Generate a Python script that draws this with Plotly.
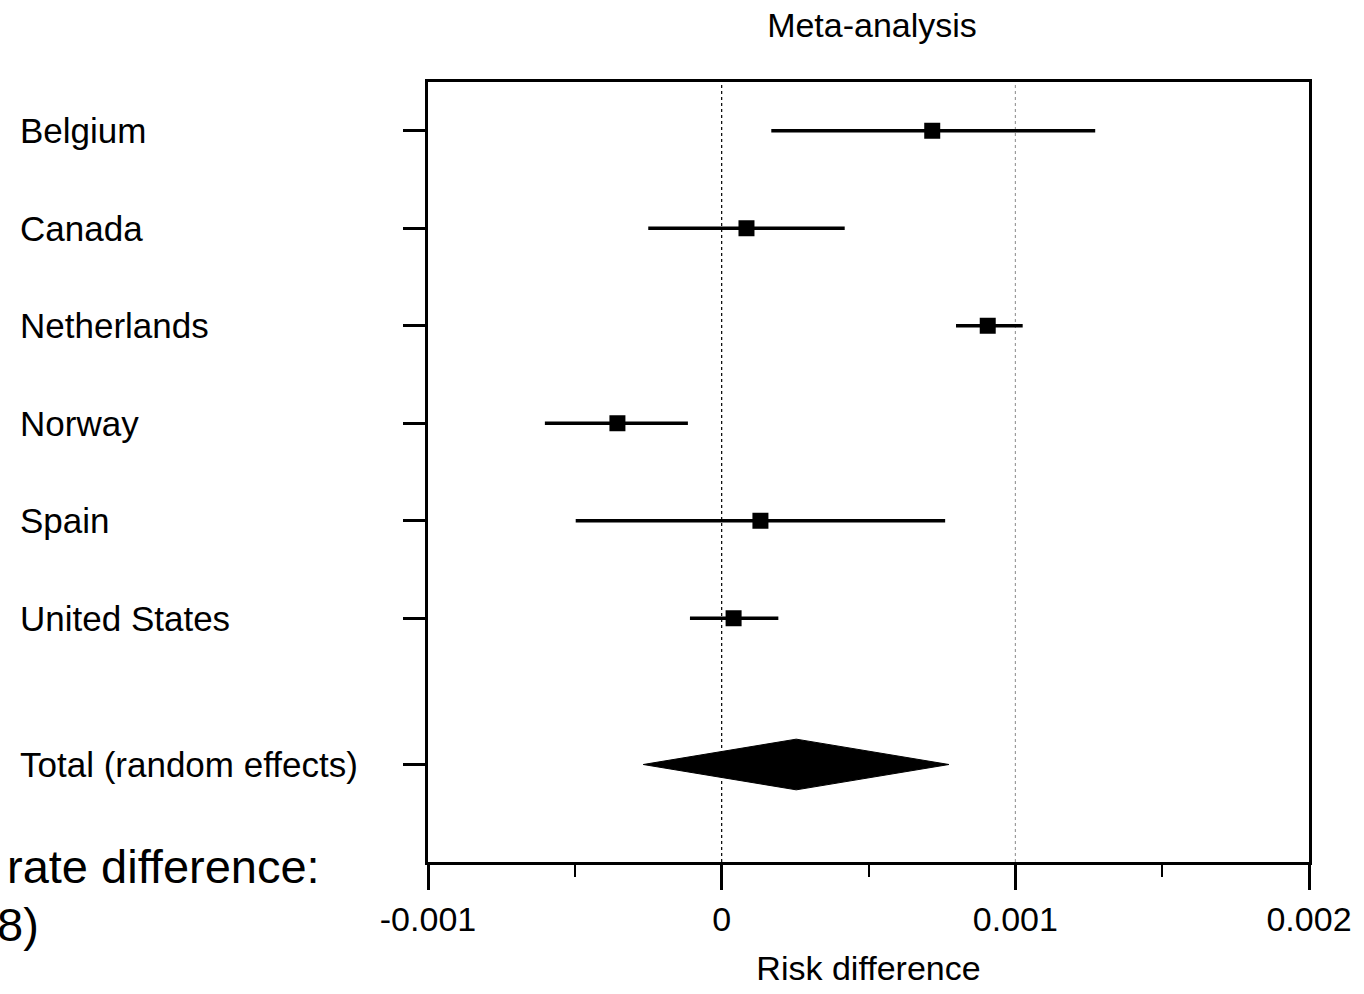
import plotly.graph_objects as go

countries = ["Belgium", "Canada", "Netherlands", "Norway", "Spain", "United States"]
estimates = [0.000717, 0.0000845, 0.000906, -0.000355, 0.000132, 0.0000406]
lower = [0.000169, -0.000250, 0.000798, -0.000602, -0.000497, -0.000108]
upper = [0.001272, 0.000419, 0.001025, -0.000115, 0.000761, 0.000193]

total_label = "Total (random effects)"
total_est = 0.000254
total_lower = -0.000267
total_upper = 0.000774

x_tickvals = [-0.001, 0, 0.001, 0.002]
x_ticktext = ["-0.001", "0", "0.001", "0.002"]

font_family = "Liberation Sans, Arial, sans-serif"

rows = list(range(len(countries)))
total_row = len(countries) + 0.5

fig = go.Figure()

# CI lines
for i in rows:
    fig.add_trace(go.Scatter(
        x=[lower[i], upper[i]], y=[i, i], mode="lines",
        line=dict(color="black", width=3.5), showlegend=False, hoverinfo="skip"))

# point estimates
fig.add_trace(go.Scatter(
    x=estimates, y=rows, mode="markers",
    marker=dict(symbol="square", size=16, color="black"),
    showlegend=False))

# diamond
h = 0.26
fig.add_trace(go.Scatter(
    x=[total_lower, total_est, total_upper, total_est, total_lower],
    y=[total_row, total_row - h, total_row, total_row + h, total_row],
    mode="lines", fill="toself", fillcolor="black",
    line=dict(color="black", width=1), showlegend=False))

# reference lines
fig.add_shape(type="line", xref="x", yref="paper", x0=0, x1=0, y0=0, y1=1,
              line=dict(color="black", width=1.2, dash="dot"), layer="below")
fig.add_shape(type="line", xref="x", yref="paper", x0=0.001, x1=0.001, y0=0, y1=1,
              line=dict(color="#888888", width=1, dash="dot"), layer="below")

# row labels
for i, name in enumerate(countries + [total_label]):
    yv = rows[i] if i < len(countries) else total_row
    fig.add_annotation(x=(15 - 428) / 887, xref="paper", y=yv, yref="y", text=name,
                       showarrow=False, xanchor="left", yanchor="middle",
                       font=dict(size=35, color="black", family=font_family))

# cut-off text on left
fig.add_annotation(x=(321 - 428) / 887, xref="paper", y=(866 - 871) / 784, yref="paper",
                   text="rate difference:", showarrow=False, xanchor="right", yanchor="middle",
                   font=dict(size=47, color="black", family=font_family))
fig.add_annotation(x=(38 - 428) / 887, xref="paper", y=(866 - 929) / 784, yref="paper",
                   text="8)", showarrow=False, xanchor="right", yanchor="middle",
                   font=dict(size=47, color="black", family=font_family))

fig.update_layout(
    width=1364, height=994,
    margin=dict(l=428, r=49, t=82, b=128),
    plot_bgcolor="white", paper_bgcolor="white",
    font=dict(family=font_family, color="black", size=34),
    title=dict(text="Meta-analysis", x=872 / 1364, xanchor="center",
               y=1 - 25 / 994, yanchor="middle",
               font=dict(size=34, family=font_family, color="black")),
)

fig.update_xaxes(
    range=[-0.001, 0.002], tickvals=x_tickvals, ticktext=x_ticktext,
    showgrid=False, zeroline=False,
    showline=True, linecolor="black", linewidth=3, mirror=True,
    ticks="outside", ticklen=25, tickwidth=3, tickcolor="black",
    tickfont=dict(size=34, family=font_family, color="black"),
    minor=dict(dtick=0.0005, tick0=0, ticks="outside", ticklen=12, tickwidth=2, tickcolor="black"),
    title=dict(text="Risk difference", font=dict(size=34, family=font_family, color="black"), standoff=20),
)
fig.update_yaxes(
    range=[7.5, -0.5], tickvals=rows + [total_row], ticktext=[""] * (len(rows) + 1),
    showgrid=False, zeroline=False,
    showline=True, linecolor="black", linewidth=3, mirror=True,
    ticks="outside", ticklen=22, tickwidth=3, tickcolor="black",
)

fig.write_html(
    "out.html",
    config={"displayModeBar": False},
    post_script=(
        "var s=document.createElement('style');"
        "s.textContent='html,body{margin:0;padding:0;width:1364px;height:994px;overflow:hidden;}"
        ".plotly-graph-div{position:absolute;left:0;top:0;}';"
        "document.head.appendChild(s);"
    ),
)
